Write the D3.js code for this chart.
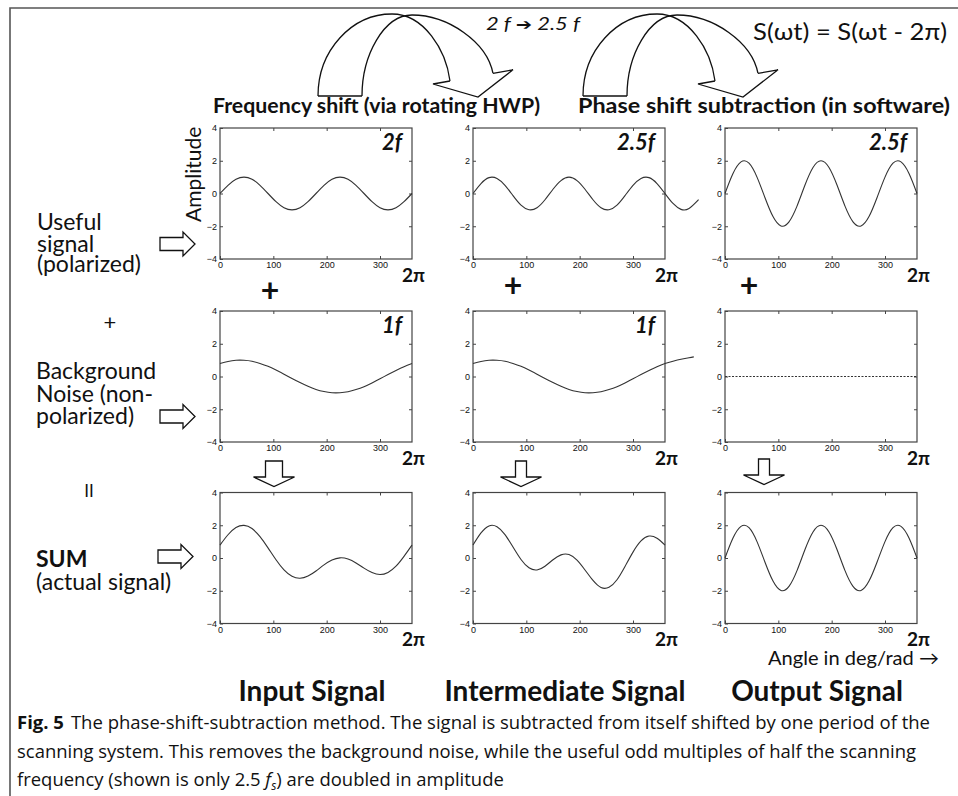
<!DOCTYPE html>
<html>
<head>
<meta charset="utf-8">
<script src="https://cdn.jsdelivr.net/npm/d3@7"></script>
<style>
  body { margin: 0; background: #fff; }
  svg { display: block; }
  text { font-family: Lato, 'Open Sans', sans-serif; fill: #111; }
</style>
</head>
<body>
<div id="chart"></div>
<script>
var width = 958,
    height = 796;

// angle samples in degrees, read every 15 deg off the reference curves
var angles = [0, 15, 30, 45, 60, 75, 90, 105, 120, 135, 150, 165, 180, 195, 210, 225, 240, 255, 270, 285, 300, 315, 330, 345, 360];
// the middle column curves run past the right edge of the box
var extAnglesUseful = [375, 390, 405, 423];
var extAnglesNoise = [375, 390, 405, 414];

var inputUseful = [0, 0.5, 0.87, 1, 0.87, 0.5, 0, -0.5, -0.87, -1, -0.87, -0.5, 0, 0.5, 0.87, 1, 0.87, 0.5, 0, -0.5, -0.87, -1, -0.87, -0.5, 0];
var midUseful = [0, 0.61, 0.97, 0.92, 0.5, -0.13, -0.71, -0.99, -0.87, -0.38, 0.26, 0.79, 1, 0.79, 0.26, -0.38, -0.87, -0.99, -0.71, -0.13, 0.5, 0.92, 0.97, 0.61, 0];
var midUsefulExt = [-0.61, -0.97, -0.92, -0.38];
var outputUseful = [0, 1.22, 1.93, 1.85, 1, -0.26, -1.41, -1.98, -1.73, -0.77, 0.52, 1.59, 2, 1.59, 0.52, -0.77, -1.73, -1.98, -1.41, -0.26, 1, 1.85, 1.93, 1.22, 0];

var inputNoise = [0.79, 0.92, 0.99, 0.99, 0.93, 0.8, 0.62, 0.39, 0.14, -0.12, -0.37, -0.6, -0.79, -0.92, -0.99, -0.99, -0.93, -0.8, -0.62, -0.39, -0.14, 0.12, 0.37, 0.6, 0.79];
var midNoise = [0.79, 0.92, 0.99, 0.99, 0.93, 0.8, 0.62, 0.39, 0.14, -0.12, -0.37, -0.6, -0.79, -0.92, -0.99, -0.99, -0.93, -0.8, -0.62, -0.39, -0.14, 0.12, 0.37, 0.6, 0.79];
var midNoiseExt = [0.93, 1.05, 1.15, 1.2];
var outputNoise = [0, 0, 0, 0, 0, 0, 0, 0, 0, 0, 0, 0, 0, 0, 0, 0, 0, 0, 0, 0, 0, 0, 0, 0, 0];

var inputSum = [0.79, 1.42, 1.86, 1.99, 1.8, 1.3, 0.62, -0.11, -0.73, -1.12, -1.24, -1.1, -0.79, -0.42, -0.12, 0.01, -0.06, -0.3, -0.62, -0.89, -1.01, -0.88, -0.5, 0.1, 0.79];
var midSum = [0.79, 1.53, 1.96, 1.91, 1.43, 0.67, -0.09, -0.6, -0.73, -0.5, -0.11, 0.19, 0.21, -0.13, -0.73, -1.37, -1.8, -1.79, -1.33, -0.52, 0.36, 1.04, 1.34, 1.21, 0.79];
var outputSum = [0, 1.22, 1.93, 1.85, 1, -0.26, -1.41, -1.98, -1.73, -0.77, 0.52, 1.59, 2, 1.59, 0.52, -0.77, -1.73, -1.98, -1.41, -0.26, 1, 1.85, 1.93, 1.22, 0];

var xTicks = [0, 100, 200, 300];
var yTicks = [-4, -2, 0, 2, 4];
var freqLabels = [['2f', '2.5f', '2.5f'], ['1f', '1f', ''], ['', '', '']];
var columnTitles = ['Input Signal', 'Intermediate Signal', 'Output Signal'];

function zip(a, v) {
  return a.map(function (d, i) { return [d, v[i]]; });
}

var panels = [
  { row: 0, col: 0, pts: zip(angles, inputUseful) },
  { row: 0, col: 1, pts: zip(angles.concat(extAnglesUseful), midUseful.concat(midUsefulExt)) },
  { row: 0, col: 2, pts: zip(angles, outputUseful) },
  { row: 1, col: 0, pts: zip(angles, inputNoise) },
  { row: 1, col: 1, pts: zip(angles.concat(extAnglesNoise), midNoise.concat(midNoiseExt)) },
  { row: 1, col: 2, pts: zip(angles, outputNoise), dashed: true },
  { row: 2, col: 0, pts: zip(angles, inputSum) },
  { row: 2, col: 1, pts: zip(angles, midSum) },
  { row: 2, col: 2, pts: zip(angles, outputSum) }
];

var colX = [220, 473, 725],
    rowY = [128, 311, 492.5],
    pw = 192,
    ph = 131;

var svg = d3.select('#chart')
  .append('svg')
  .attr('width', width)
  .attr('height', height);

// figure frame (top and left rules)
svg.append('path')
  .attr('d', 'M10,796 L10,8 L958,8')
  .attr('fill', 'none')
  .attr('stroke', '#555')
  .attr('stroke-width', 1.6);

function styleAxis(g, labels) {
  g.select('.domain').remove();
  g.selectAll('.tick line').attr('stroke', '#444');
  if (labels) {
    g.selectAll('.tick text')
      .attr('fill', '#333')
      .style('font-family', "'Liberation Sans', Arial, sans-serif")
      .style('font-size', '9px');
  } else {
    g.selectAll('.tick text').remove();
  }
}

panels.forEach(function (p) {
  var x0 = colX[p.col], y0 = rowY[p.row];
  var x = d3.scaleLinear().domain([0, 360]).range([x0, x0 + pw]);
  var y = d3.scaleLinear().domain([-4, 4]).range([y0 + ph, y0]);
  var g = svg.append('g');

  g.append('g')
    .attr('transform', 'translate(0,' + (y0 + ph) + ')')
    .call(d3.axisBottom(x).tickValues(xTicks).tickSizeInner(-3).tickSizeOuter(0).tickPadding(3))
    .call(styleAxis, true);
  g.append('g')
    .attr('transform', 'translate(0,' + y0 + ')')
    .call(d3.axisTop(x).tickValues([100, 200, 300]).tickSizeInner(-3).tickSizeOuter(0))
    .call(styleAxis, false);
  g.append('g')
    .attr('transform', 'translate(' + x0 + ',0)')
    .call(d3.axisLeft(y).tickValues(yTicks).tickSizeInner(-3).tickSizeOuter(0).tickPadding(3))
    .call(styleAxis, true);
  g.append('g')
    .attr('transform', 'translate(' + (x0 + pw) + ',0)')
    .call(d3.axisRight(y).tickValues([-2, 0, 2]).tickSizeInner(-3).tickSizeOuter(0))
    .call(styleAxis, false);

  g.append('rect')
    .attr('x', x0).attr('y', y0)
    .attr('width', pw).attr('height', ph)
    .attr('fill', 'none')
    .attr('stroke', '#444')
    .attr('stroke-width', 1.2);

  var line = d3.line()
    .x(function (d) { return x(d[0]); })
    .y(function (d) { return y(d[1]); })
    .curve(d3.curveNatural);

  g.append('path')
    .datum(p.pts)
    .attr('d', line)
    .attr('fill', 'none')
    .attr('stroke', '#333')
    .attr('stroke-width', 1.1)
    .attr('stroke-dasharray', p.dashed ? '2,1.5' : null);

  var lab = freqLabels[p.row][p.col];
  if (lab) {
    g.append('text')
      .attr('x', x0 + pw - 10)
      .attr('y', y0 + 22)
      .attr('text-anchor', 'end')
      .style('font-size', '22px')
      .style('font-weight', 'bold')
      .style('font-style', 'italic')
      .text(lab);
  }

  g.append('text')
    .attr('x', x0 + pw - 10)
    .attr('y', y0 + ph + 22.5)
    .style('font-size', '19px')
    .style('font-weight', 'bold')
    .text('2\u03c0');
});

// amplitude label
svg.append('text')
  .attr('transform', 'translate(201,222) rotate(-90)')
  .style('font-size', '21px')
  .text('Amplitude');

// row labels on the left, one text block each
function multiline(x, y, lines, gaps, weights) {
  var t = svg.append('text').attr('x', x).attr('y', y).style('font-size', '23px');
  lines.forEach(function (s, i) {
    t.append('tspan')
      .attr('x', x)
      .attr('dy', i === 0 ? 0 : gaps[i - 1])
      .style('font-weight', weights ? weights[i] : 'normal')
      .text(s);
  });
}
multiline(37, 230, ['Useful', 'signal', '(polarized)'], [21.5, 20.5]);
multiline(36, 379, ['Background', 'Noise (non-', 'polarized)'], [22.5, 22.5]);
multiline(36, 567, ['SUM', '(actual signal)'], [23], ['bold', 'normal']);

svg.append('text').attr('x', 110).attr('y', 330).attr('text-anchor', 'middle')
  .style('font-size', '22px').text('+');
svg.append('text').attr('x', 89).attr('y', 497).attr('text-anchor', 'middle')
  .style('font-size', '17px').text('II');

// hollow block arrows pointing right
[[160, 244], [160, 416.5], [158, 556.5]].forEach(function (a) {
  var pts = [[0, -6.5], [23, -6.5], [23, -12], [35, 0], [23, 12], [23, 6.5], [0, 6.5]];
  svg.append('path')
    .attr('d', 'M' + pts.map(function (q) { return (a[0] + q[0]) + ',' + (a[1] + q[1]); }).join('L') + 'Z')
    .attr('fill', '#fff').attr('stroke', '#111').attr('stroke-width', 1.3);
});

// hollow block arrows pointing down
[[274, 461, 17], [521, 461, 11], [764, 459, 11]].forEach(function (a) {
  var w = a[2] / 2;
  var pts = [[-w, 0], [w, 0], [w, 16], [20.5, 16], [0, 25.5], [-20.5, 16], [-w, 16]];
  svg.append('path')
    .attr('d', 'M' + pts.map(function (q) { return (a[0] + q[0]) + ',' + (a[1] + q[1]); }).join('L') + 'Z')
    .attr('fill', '#fff').attr('stroke', '#111').attr('stroke-width', 1.3);
});

// bold plus signs between the first two rows
[[270, 292], [513, 287], [749, 287]].forEach(function (c) {
  svg.append('text').attr('x', c[0]).attr('y', c[1] + 10).attr('text-anchor', 'middle')
    .style('font-size', '32px').style('font-weight', 'bold').text('+');
});

// curved arrows over the headings
function curvedArrow(dx) {
  var g = svg.append('g').attr('transform', 'translate(' + dx + ',0)')
    .attr('fill', 'none').attr('stroke', '#111').attr('stroke-width', 1.3);
  g.append('path').attr('d', 'M318,96 C318,50 352,14 392,14 C424,14 446,50 450,81');
  g.append('path').attr('d', 'M362,96 C362,55 384,15 412,15 C448,15 487,42 493,73.4');
  g.append('path').attr('d', 'M318,96 L362,96');
  g.append('path').attr('d', 'M493,73.4 L513,69.8 L478,97 L433,84 L450,81').attr('fill', '#fff');
}
curvedArrow(0);
curvedArrow(265);

var ft = svg.append('text').attr('x', 486).attr('y', 30)
  .attr('textLength', 94).attr('lengthAdjust', 'spacingAndGlyphs')
  .style('font-size', '18px').style('font-style', 'italic');
ft.append('tspan').text('2 f ');
ft.append('tspan').style('font-style', 'normal').style('font-family', "'DejaVu Sans', sans-serif")
  .style('font-size', '16px').text('\u2794');
ft.append('tspan').text(' 2.5 f');

svg.append('text').attr('x', 753).attr('y', 40)
  .attr('textLength', 194).attr('lengthAdjust', 'spacingAndGlyphs')
  .style('font-size', '23px')
  .text('S(\u03c9t) = S(\u03c9t - 2\u03c0)');

svg.append('text').attr('x', 213).attr('y', 113)
  .attr('textLength', 327).attr('lengthAdjust', 'spacingAndGlyphs')
  .style('font-size', '20px').style('font-weight', 'bold')
  .text('Frequency shift (via rotating HWP)');
svg.append('text').attr('x', 578).attr('y', 113)
  .attr('textLength', 372).attr('lengthAdjust', 'spacingAndGlyphs')
  .style('font-size', '20px').style('font-weight', 'bold')
  .text('Phase shift subtraction (in software)');

svg.append('text').attr('x', 768).attr('y', 665)
  .attr('textLength', 171).attr('lengthAdjust', 'spacingAndGlyphs')
  .style('font-size', '19px')
  .text('Angle in deg/rad \u2192');

columnTitles.forEach(function (t, i) {
  svg.append('text')
    .attr('x', colX[i] + 92)
    .attr('y', 701)
    .attr('text-anchor', 'middle')
    .style('font-size', '28px')
    .style('font-weight', 'bold')
    .text(t);
});

// caption
var capFont = "'Liberation Sans Narrow', 'Open Sans', sans-serif";
var figLab = svg.append('text').attr('x', 17).attr('y', 729)
  .style('font-family', capFont).style('font-size', '18.5px').style('font-weight', 'bold')
  .text('Fig. 5');
var restX = 17 + figLab.node().getComputedTextLength() + 7;
svg.append('text').attr('x', restX).attr('y', 729)
  .attr('textLength', 930 - restX).attr('lengthAdjust', 'spacingAndGlyphs')
  .style('font-family', capFont).style('font-size', '18.5px')
  .text('The phase-shift-subtraction method. The signal is subtracted from itself shifted by one period of the');
var line2 = svg.append('text').attr('x', 17).attr('y', 757.5)
  .style('font-family', capFont).style('font-size', '18.5px')
  .text('scanning system. This removes the background noise, while the useful odd multiples of half the scanning');
var k = 899 / line2.node().getComputedTextLength();
line2.attr('textLength', 899).attr('lengthAdjust', 'spacingAndGlyphs');
var line3 = svg.append('text').attr('x', 17).attr('y', 786)
  .style('font-family', capFont).style('font-size', '18.5px');
line3.append('tspan').text('frequency (shown is only 2.5 ');
line3.append('tspan').style('font-style', 'italic').text('f');
line3.append('tspan').attr('dy', 4).style('font-style', 'italic').style('font-size', '12px').text('s');
line3.append('tspan').attr('dy', -4).text(') are doubled in amplitude');
line3.attr('textLength', line3.node().getComputedTextLength() * k).attr('lengthAdjust', 'spacingAndGlyphs');
</script>
</body>
</html>
